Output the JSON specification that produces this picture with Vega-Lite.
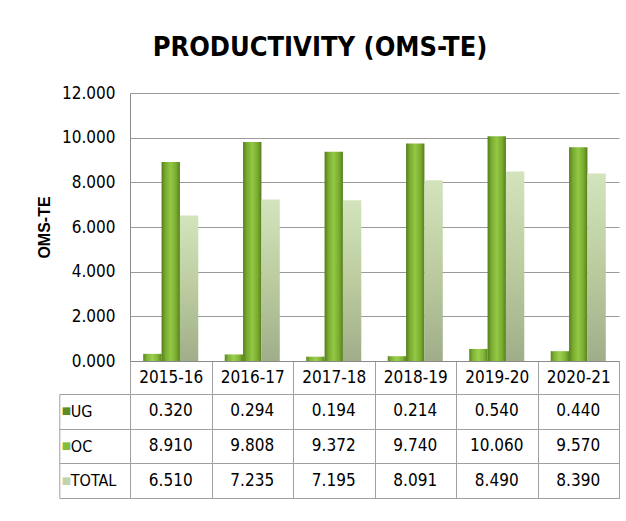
{
  "$schema": "https://vega.github.io/schema/vega-lite/v6.json",
  "background": "white",
  "padding": {"left": 36, "top": 34, "right": 8, "bottom": 5},
  "title": {"text": "PRODUCTIVITY (OMS-TE)", "font": "DejaVu Sans Condensed", "fontSize": 27, "fontWeight": "bold", "color": "#000000", "anchor": "middle", "offset": 22, "dx": -8},
  "datasets": {
    "prod": [
      {"year": "2015-16", "series": "UG", "value": 0.320},
      {"year": "2016-17", "series": "UG", "value": 0.294},
      {"year": "2017-18", "series": "UG", "value": 0.194},
      {"year": "2018-19", "series": "UG", "value": 0.214},
      {"year": "2019-20", "series": "UG", "value": 0.540},
      {"year": "2020-21", "series": "UG", "value": 0.440},
      {"year": "2015-16", "series": "OC", "value": 8.910},
      {"year": "2016-17", "series": "OC", "value": 9.808},
      {"year": "2017-18", "series": "OC", "value": 9.372},
      {"year": "2018-19", "series": "OC", "value": 9.740},
      {"year": "2019-20", "series": "OC", "value": 10.060},
      {"year": "2020-21", "series": "OC", "value": 9.570},
      {"year": "2015-16", "series": "TOTAL", "value": 6.510},
      {"year": "2016-17", "series": "TOTAL", "value": 7.235},
      {"year": "2017-18", "series": "TOTAL", "value": 7.195},
      {"year": "2018-19", "series": "TOTAL", "value": 8.091},
      {"year": "2019-20", "series": "TOTAL", "value": 8.490},
      {"year": "2020-21", "series": "TOTAL", "value": 8.390}
    ]
  },
  "spacing": -9.5,
  "vconcat": [
    {
      "width": 489,
      "height": 268,
      "view": {"stroke": null},
      "data": {"name": "prod"},
      "encoding": {
        "x": {
          "field": "year", "type": "nominal",
          "scale": {"domain": ["2015-16", "2016-17", "2017-18", "2018-19", "2019-20", "2020-21"], "paddingInner": 0, "paddingOuter": 0},
          "title": null,
          "axis": {"labelFont": "DejaVu Sans Condensed", "labelFontSize": 17, "labelColor": "#000000", "labelAngle": 0, "labelBaseline": "middle", "labelPadding": -16, "tickBand": "extent", "tickSize": 32.3, "tickColor": "#a0a0a0", "domainColor": "#8a8a8a", "grid": false}
        },
        "xOffset": {"field": "series", "type": "nominal", "scale": {"domain": ["UG", "OC", "TOTAL"], "paddingInner": 0, "paddingOuter": 0.72}},
        "y": {
          "field": "value", "type": "quantitative",
          "scale": {"domain": [0, 12]},
          "title": "OMS-TE",
          "axis": {"format": ".3f", "values": [0, 2, 4, 6, 8, 10, 12], "labelFont": "DejaVu Sans Condensed", "labelFontSize": 17, "labelColor": "#000000", "labelPadding": 15, "ticks": false, "domainColor": "#8a8a8a", "gridColor": "#9a9a9a", "titleFont": "Liberation Sans", "titleFontSize": 16, "titleFontWeight": "bold", "titleColor": "#000000", "titlePadding": 9}
        }
      },
      "layer": [
        {
          "transform": [{"filter": "datum.series === 'UG'"}],
          "mark": {"type": "bar", "color": {"gradient": "linear", "x1": 0, "y1": 0, "x2": 1, "y2": 0, "stops": [{"offset": 0, "color": "#5b8520"}, {"offset": 0.2, "color": "#80b436"}, {"offset": 0.5, "color": "#9ccf4e"}, {"offset": 0.8, "color": "#80b436"}, {"offset": 1, "color": "#5b8520"}]}}
        },
        {
          "transform": [{"filter": "datum.series === 'OC'"}],
          "mark": {"type": "bar", "color": {"gradient": "linear", "x1": 0, "y1": 0, "x2": 1, "y2": 0, "stops": [{"offset": 0, "color": "#557d1c"}, {"offset": 0.2, "color": "#78aa2e"}, {"offset": 0.5, "color": "#93c845"}, {"offset": 0.8, "color": "#78aa2e"}, {"offset": 1, "color": "#557d1c"}]}}
        },
        {
          "transform": [{"filter": "datum.series === 'TOTAL'"}],
          "mark": {"type": "bar", "color": {"gradient": "linear", "x1": 0, "y1": 0, "x2": 0, "y2": 1, "stops": [{"offset": 0, "color": "#d3e4bd"}, {"offset": 0.5, "color": "#bccc9f"}, {"offset": 1, "color": "#9fae89"}]}}
        }
      ]
    },
    {
      "width": 489,
      "height": 104,
      "view": {"stroke": "#a0a0a0"},
      "data": {"name": "prod"},
      "layer": [
        {
          "mark": {"type": "text", "font": "DejaVu Sans Condensed", "fontSize": 17, "color": "#000000"},
          "encoding": {
            "x": {
              "field": "year", "type": "nominal",
              "scale": {"domain": ["2015-16", "2016-17", "2017-18", "2018-19", "2019-20", "2020-21"], "paddingInner": 0, "paddingOuter": 0},
              "title": null,
              "axis": {"grid": true, "tickBand": "extent", "labels": false, "ticks": false, "domain": false, "gridColor": "#a0a0a0", "gridOpacity": 1}
            },
            "y": {
              "field": "series", "type": "nominal",
              "scale": {"domain": ["UG", "OC", "TOTAL"], "paddingInner": 0, "paddingOuter": 0},
              "title": null,
              "axis": {"orient": "left", "grid": true, "gridColor": "#a0a0a0", "tickBand": "extent", "tickSize": 70.7, "tickColor": "#a0a0a0", "domain": false, "labelAlign": "left", "labelPadding": -11, "labelFont": "DejaVu Sans Condensed", "labelFontSize": 16, "labelColor": "#000000"}
            },
            "text": {"field": "value", "type": "quantitative", "format": ".3f"}
          }
        },
        {
          "mark": {"type": "text", "opacity": 0},
          "encoding": {
            "y": {
              "field": "series", "type": "nominal",
              "scale": {"domain": ["UG", "OC", "TOTAL"], "paddingInner": 0, "paddingOuter": 0},
              "title": null,
              "axis": {"orient": "left", "offset": 70.7, "ticks": false, "domain": true, "domainColor": "#a0a0a0", "grid": false, "labelExpr": "'■'", "labelAlign": "left", "labelPadding": -2, "labelFont": "DejaVu Sans", "labelFontSize": 10, "labelColor": {"condition": [{"test": "datum.value === 'UG'", "value": "#5e8c22"}, {"test": "datum.value === 'OC'", "value": "#86bb3c"}], "value": "#c3d2aa"}}
            },
            "text": {"value": ""}
          }
        }
      ],
      "resolve": {"axis": {"y": "independent"}}
    }
  ]
}
